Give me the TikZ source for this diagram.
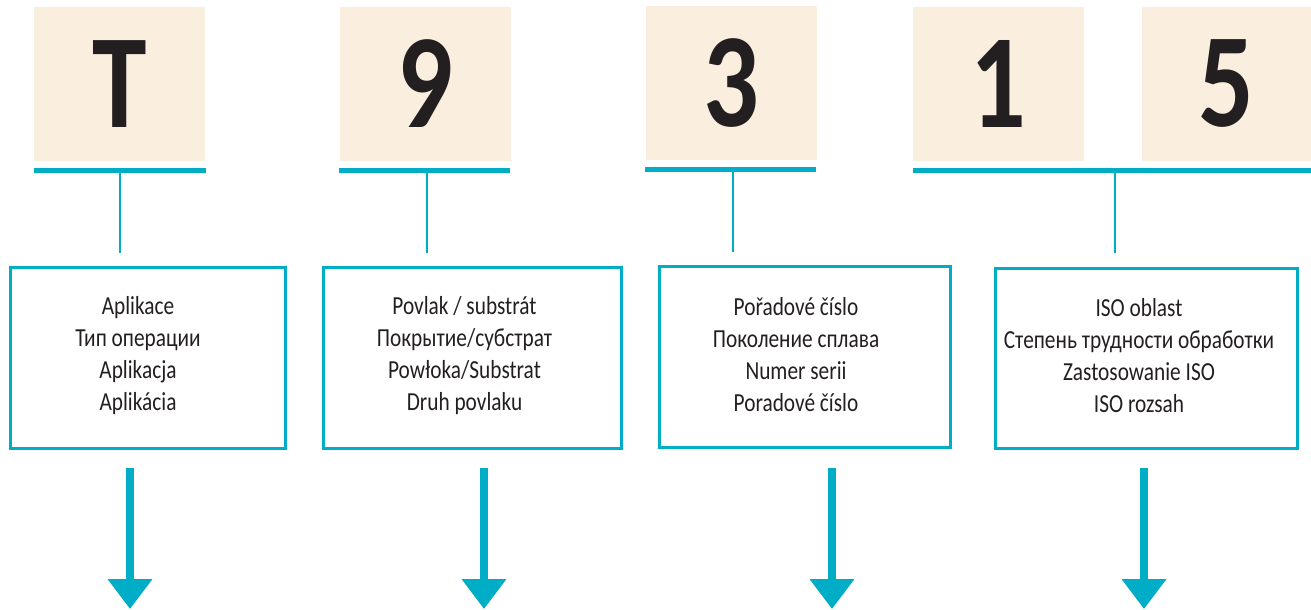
\documentclass[tikz,border=0pt]{standalone}
\usepackage{fontspec}
\setmainfont{Carlito}
\newfontfamily\condfont[FakeStretch=0.82]{Carlito}
\usetikzlibrary{arrows.meta}
\definecolor{beige}{HTML}{FAEEDF}
\definecolor{brandteal}{HTML}{00ADC6}
\definecolor{ink}{HTML}{231F20}
\begin{document}
\begin{tikzpicture}[x=1pt,y=-1pt,
  digitbox/.style={fill=beige, minimum width=171pt, minimum height=154pt, inner sep=0pt,
    font=\condfont\bfseries\fontsize{134}{134}\selectfont, text=ink},
  bar/.style={fill=brandteal, minimum height=5pt, inner sep=0pt},
  infobox/.style={draw=brandteal, line width=3pt, minimum height=181pt, inner sep=0pt},
  infotext/.style={align=center, font=\condfont\fontsize{26}{32}\selectfont, text=ink, inner sep=0pt},
  stem/.style={draw=brandteal, line width=2pt},
  bigarrow/.style={draw=brandteal, line width=8pt, -{Triangle[width=43pt,length=30pt]}}
]
\useasboundingbox (0,0) rectangle (1311,610);

% digit boxes
\node[digitbox] (dT) at (119.5,84) {T};
\node[digitbox] (d9) at (425,84) {9};
\node[digitbox] (d3) at (731,83) {3};
\node[digitbox] (d1) at (998.5,84) {1};
\node[digitbox, minimum width=169pt] (d5) at (1226.5,84) {5};

% bars
\node[bar, minimum width=172pt] (b1) at (120,170.5) {};
\node[bar, minimum width=171pt] (b2) at (424.5,170.5) {};
\node[bar, minimum width=171pt] (b3) at (730.5,169) {};
\node[bar, minimum width=398pt] (b4) at (1112,170) {};

% stem ends
\coordinate (s1) at (120,253);
\coordinate (s2) at (426.5,253);
\coordinate (s3) at (733,252);
\coordinate (s4) at (1115,253);
\draw[stem] (b1.south -| s1) -- (s1);
\draw[stem] (b2.south -| s2) -- (s2);
\draw[stem] (b3.south -| s3) -- (s3);
\draw[stem] (b4.south -| s4) -- (s4);

% info boxes
\node[infobox, minimum width=275pt] (i1) at (148,358) {};
\node[infobox, minimum width=298pt] (i2) at (472.5,358) {};
\node[infobox, minimum width=291pt] (i3) at (805,357) {};
\node[infobox, minimum width=302pt, minimum height=180pt] (i4) at (1146.5,358.5) {};

\node[infotext] (t1) at (138,356) {Aplikace\\Тип операции\\Aplikacja\\Aplikácia};
\node[infotext] (t2) at (464.5,356) {Povlak / substrát\\Покрытие/субстрат\\Powłoka/Substrat\\Druh povlaku};
\node[infotext] (t3) at (796,355) {Pořadové číslo\\Поколение сплава\\Numer serii\\Poradové číslo};
\node[infotext] (t4) at (1139,356) {ISO oblast\\Степень трудности обработки\\Zastosowanie ISO\\ISO rozsah};

% arrows
\coordinate (a1s) at (130,468);  \coordinate (a1e) at (130,609);
\coordinate (a2s) at (484,468);  \coordinate (a2e) at (484,609);
\coordinate (a3s) at (832,468);  \coordinate (a3e) at (832,609);
\coordinate (a4s) at (1144,468); \coordinate (a4e) at (1144,609);
\draw[bigarrow] (a1s) -- (a1e);
\draw[bigarrow] (a2s) -- (a2e);
\draw[bigarrow] (a3s) -- (a3e);
\draw[bigarrow] (a4s) -- (a4e);
\end{tikzpicture}
\end{document}
